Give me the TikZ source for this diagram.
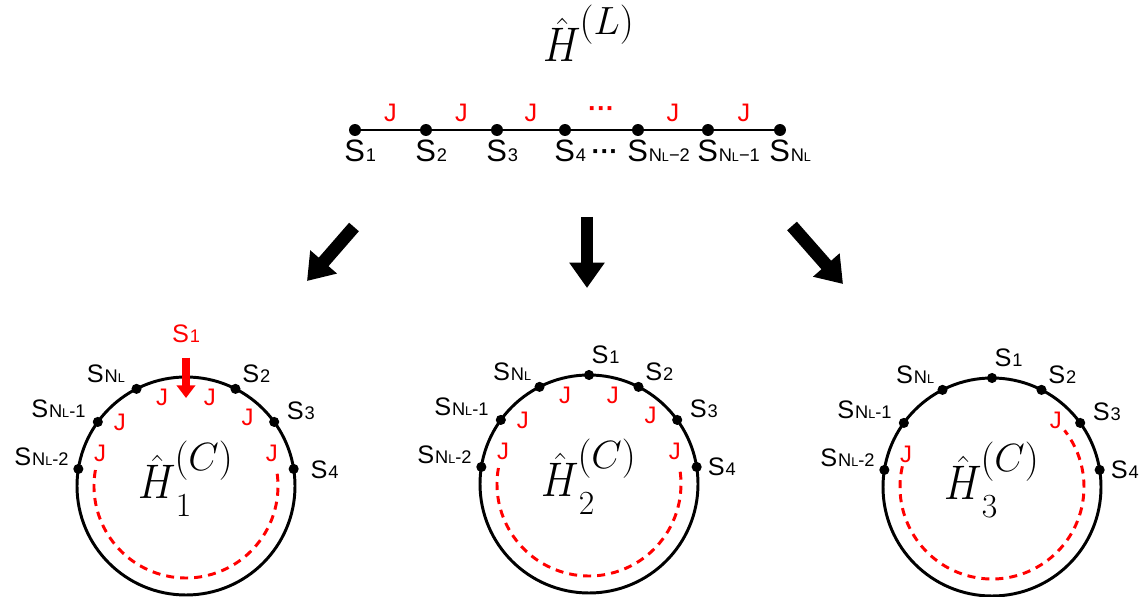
\RequirePackage{fix-cm}
\documentclass[tikz,border=0pt]{standalone}
\usepackage[no-math]{fontspec}
\setmainfont{Liberation Sans}
\usetikzlibrary{arrows.meta}

\newcommand{\subsz}{13}
\newcommand{\subsubsz}{9}
\newcommand{\Sl}[1]{S{\fontsize{\subsz}{\subsz}\selectfont\kern0.6pt#1}}
\newcommand{\NL}{N{\fontsize{\subsubsz}{\subsubsz}\selectfont L}}
\newcommand{\scr}[1]{\hbox{\fontsize{28}{28}\selectfont$#1$}}
\newcommand{\scrs}[1]{\hbox{\fontsize{24}{24}\selectfont$#1$}}
\newcommand{\Hbig}{\hat{\scalebox{1}[1.15]{$H$}}}
\newcommand{\Hc}[1]{$\Hbig_{\lower5pt\scrs{#1}}^{\kern-1pt\lower3pt\scr{(C)}}$}

\begin{document}
\begin{tikzpicture}[x=0.025cm, y=0.025cm,
    site/.style={circle, fill=black, inner sep=0pt, minimum size=7.2pt},
    chainsite/.style={site, minimum size=8.5pt},
    slbl/.style={font=\fontsize{18}{20}\selectfont, inner sep=1pt},
    clbl/.style={font=\fontsize{22}{24}\selectfont, inner sep=0pt},
    coup/.style={text=red, font=\fontsize{17}{19}\selectfont, inner sep=0pt},
    ham/.style={font=\fontsize{30}{32}\selectfont, inner sep=0pt},
    ring/.style={line width=2.1pt},
    open/.style={red, line width=2.1pt, dash pattern=on 5.7pt off 4.3pt},
    bigarrow/.style={line width=9.2pt, -{Triangle[width=24pt,length=18pt]}},
    redarrow/.style={red, line width=5pt, shorten <=9pt, -{Triangle[width=13pt,length=9pt]}}]

\useasboundingbox (0,0) rectangle (1142,597);

% ---- OPEN CHAIN (top) ----
\node[ham, anchor=base] (HL) at (589,535) {$\Hbig^{\kern-1pt\lower4pt\scr{(L)}}$};
\foreach \x [count=\i] in {355,426,497,565,638,708,780}
    \node[chainsite] (s\i) at (\x,467) {};
\draw[line width=1.4pt] (s1) -- (s2) -- (s3) -- (s4) -- (s5) -- (s6) -- (s7);
% couplings
\foreach \a/\b in {1/2,2/3,3/4,5/6,6/7}
    \path (s\a) -- node[coup, font=\fontsize{18}{20}\selectfont, above=6pt] (j\a) {J} (s\b);
\path (s4) -- node[coup, font=\bfseries\fontsize{19}{20}\selectfont, above=8.5pt] (jdots) {···} (s5);
% site labels
\foreach \i/\t in {1/{\Sl{1}}, 2/{\Sl{2}}, 3/{\Sl{3}}, 4/{\Sl{4}}, 5/{\Sl{\NL−2}}, 6/{\Sl{\NL−1}}, 7/{\Sl{\NL}}}
    \node[clbl, anchor=base west] (l\i) at ([shift={(-11,-32)}]s\i.center) {\t};
\node[font=\bfseries\fontsize{19}{20}\selectfont, inner sep=0pt] (ldots) at (605,442) {···};

% ---- ARROWS ----
\coordinate (a1s) at (354,370); \coordinate (a1e) at (307,316);
\coordinate (a2s) at (587,380); \coordinate (a2e) at (587,309);
\coordinate (a3s) at (792,371); \coordinate (a3e) at (843,313);
\draw[bigarrow] (a1s) -- (a1e);
\draw[bigarrow] (a2s) -- (a2e);
\draw[bigarrow] (a3s) -- (a3e);

% ---- RING 1 (left) ----
\begin{scope}[shift={(186,111)}]
    \draw[ring] (0,0) circle (109);
    \draw[open] (170:92) arc[start angle=170, end angle=370, radius=92];
    \foreach \ang/\nm/\la/\ld/\txt in {171/a/172/2pt/{\Sl{\NL-2}}, 144/b/165/4pt/{\Sl{\NL-1}}, 117/c/155/4pt/{\Sl{\NL}},
                                       63/d/40/1pt/{\Sl{2}}, 36/e/5/4pt/{\Sl{3}}, 9/f/-2/7pt/{\Sl{4}}}
        \node[site, label={[slbl, label distance=\ld]\la:\txt}] (c1\nm) at (\ang:109) {};
    \foreach \ang [count=\k] in {159,136,105,75,48,21}
        \node[coup] (c1j\k) at (\ang:92) {J};
    % marked site
    \node[slbl, text=red, anchor=base] (c1s) at (0,143) {\Sl{1}};
    \coordinate (c1tip) at (0,88);
    \draw[redarrow] (c1s) -- (c1tip);
    \node[ham, anchor=base] (H1) at (0,-13) {\Hc{1}};
\end{scope}

% ---- RING 2 (centre) ----
\begin{scope}[shift={(589,113)}]
    \draw[ring] (0,0) circle (109);
    \draw[open] (170:92) arc[start angle=170, end angle=370, radius=92];
    \foreach \ang/\nm/\la/\ld/\txt in {171/a/172/2pt/{\Sl{\NL-2}}, 144/b/165/4pt/{\Sl{\NL-1}}, 117/c/145/2pt/{\Sl{\NL}},
                                       90/g/85/3pt/{\Sl{1}}, 63/d/40/1pt/{\Sl{2}}, 36/e/5/4pt/{\Sl{3}}, 9/f/-2/3pt/{\Sl{4}}}
        \node[site, label={[slbl, label distance=\ld]\la:\txt}] (c2\nm) at (\ang:109) {};
    \foreach \ang [count=\k] in {159,136,105,75,48,21}
        \node[coup] (c2j\k) at (\ang:92) {J};
    \node[ham, anchor=base] (H2) at (0,-13) {\Hc{2}};
\end{scope}

% ---- RING 3 (right) ----
\begin{scope}[shift={(992,110)}]
    \draw[ring] (0,0) circle (109);
    \draw[open] (167:92) arc[start angle=167, end angle=398, radius=92];
    \foreach \ang/\nm/\la/\ld/\txt in {171/a/172/2pt/{\Sl{\NL-2}}, 144/b/165/4pt/{\Sl{\NL-1}}, 117/c/145/2pt/{\Sl{\NL}},
                                       90/g/85/3pt/{\Sl{1}}, 63/d/40/1pt/{\Sl{2}}, 36/e/5/4pt/{\Sl{3}}, 9/f/-2/3pt/{\Sl{4}}}
        \node[site, label={[slbl, label distance=\ld]\la:\txt}] (c3\nm) at (\ang:109) {};
    \foreach \ang [count=\k] in {159,46}
        \node[coup] (c3j\k) at (\ang:92) {J};
    \node[ham, anchor=base] (H3) at (0,-13) {\Hc{3}};
\end{scope}

\end{tikzpicture}
\end{document}
